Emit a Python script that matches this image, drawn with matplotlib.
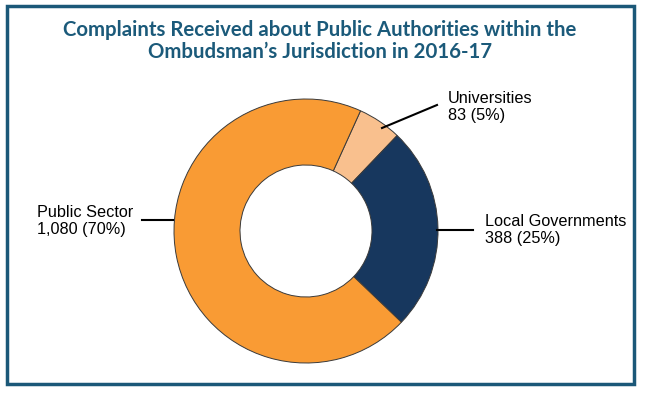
import matplotlib.pyplot as plt
from matplotlib.patches import Rectangle

# Dados do gráfico
categories = ["Universities", "Local Governments", "Public Sector"]
values = [83, 388, 1080]
colors = ["#F9C08E", "#17375E", "#F99B34"]
title = "Complaints Received about Public Authorities within the\nOmbudsman\u2019s Jurisdiction in 2016-17"

W, H = 646, 393
total = sum(values)
labels = [f"{c}\n{v:,} ({round(100 * v / total)}%)" for c, v in zip(categories, values)]

fig = plt.figure(figsize=(W / 100, H / 100), dpi=100)
ax = fig.add_axes([0, 0, 1, 1])

# Donut (coordenadas em pixels, y para cima)
cx, cy, R = 306, H - 231, 132
ax.pie(values, colors=colors, startangle=65.6, counterclock=False,
       center=(cx, cy), radius=R, frame=True,
       wedgeprops=dict(width=R * 0.5, edgecolor="#3a3a3a", linewidth=0.7))
ax.set_xlim(0, W)
ax.set_ylim(0, H)
ax.set_aspect("equal")
ax.axis("off")

# Linhas de chamada e rótulos
leaders = [((382, 128), (437, 105)), ((437, 230), (473, 230)), ((142, 220), (173, 220))]
text_pos = [(448, 107), (485, 230), (37, 221)]
for (p0, p1), (tx, ty), lab in zip(leaders, text_pos, labels):
    ax.plot([p0[0], p1[0]], [H - p0[1], H - p1[1]], color="black", lw=1.5)
    ax.text(tx, H - ty, lab, ha="left", va="center", fontsize=11.7,
            family="Liberation Sans", linespacing=1.1, color="black")

# Título
ax.text(320, H - 41, title, ha="center", va="center", fontsize=14.7,
        fontweight="bold", family="Lato", color="#1B5A7A", linespacing=1.12)

# Moldura
ax.add_patch(Rectangle((7, H - 384), 627, 378, fill=False, edgecolor="#1B5878", lw=2.5))

fig.savefig("out.png", dpi=100)
